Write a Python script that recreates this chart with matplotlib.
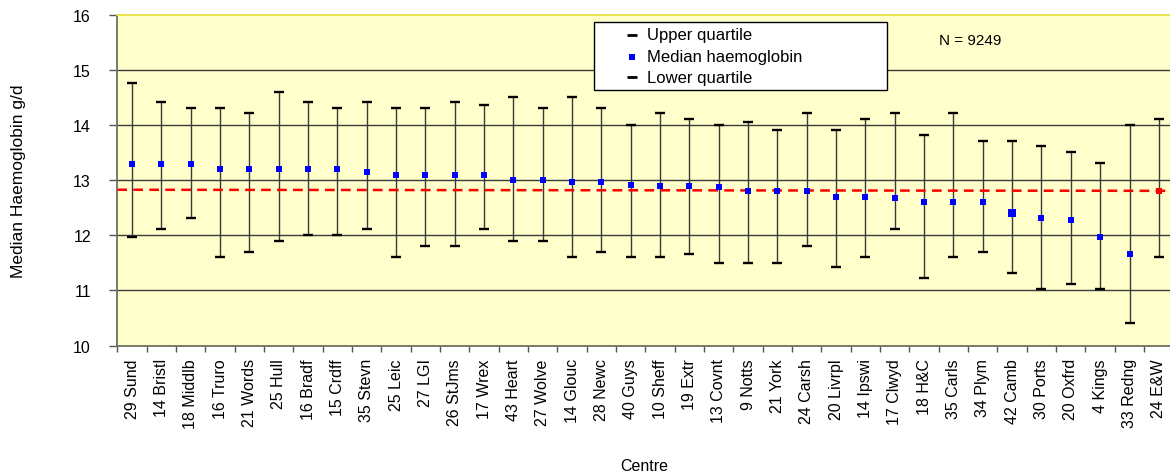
import matplotlib
matplotlib.use("Agg")
import matplotlib.pyplot as plt
from matplotlib.patches import Rectangle

plt.rcParams['font.family'] = ['Liberation Sans', 'DejaVu Sans']
plt.rcParams['lines.scale_dashes'] = False

centres = ['29 Sund', '14 Bristl', '18 Middlb', '16 Truro', '21 Words', '25 Hull',
           '16 Bradf', '15 Crdff', '35 Stevn', '25 Leic', '27 LGI', '26 StJms',
           '17 Wrex', '43 Heart', '27 Wolve', '14 Glouc', '28 Newc', '40 Guys',
           '10 Sheff', '19 Extr', '13 Covnt', '9 Notts', '21 York', '24 Carsh',
           '20 Livrpl', '14 Ipswi', '17 Clwyd', '18 H&C', '35 Carls', '34 Plym',
           '42 Camb', '30 Ports', '20 Oxfrd', '4 Kings', '33 Redng', '24 E&W']

upper = [14.76, 14.42, 14.31, 14.31, 14.21, 14.60, 14.42, 14.31, 14.42, 14.31, 14.31, 14.42,
         14.36, 14.50, 14.31, 14.50, 14.31, 14.00, 14.21, 14.11, 14.00, 14.05, 13.91, 14.21,
         13.91, 14.11, 14.21, 13.81, 14.21, 13.71, 13.71, 13.61, 13.51, 13.31, 14.00, 14.11]
median = [13.30, 13.30, 13.30, 13.20, 13.20, 13.20, 13.20, 13.20, 13.15, 13.10, 13.10, 13.10,
          13.10, 13.00, 13.00, 12.97, 12.97, 12.91, 12.90, 12.90, 12.87, 12.81, 12.80, 12.80,
          12.70, 12.70, 12.67, 12.61, 12.60, 12.60, 12.41, 12.31, 12.27, 11.96, 11.66, 12.81]
lower = [11.97, 12.11, 12.31, 11.60, 11.70, 11.90, 12.00, 12.00, 12.11, 11.60, 11.80, 11.80,
         12.11, 11.90, 11.90, 11.60, 11.70, 11.60, 11.60, 11.66, 11.50, 11.50, 11.50, 11.80,
         11.42, 11.60, 12.11, 11.22, 11.60, 11.70, 11.32, 11.02, 11.12, 11.02, 10.42, 11.60]

# England & Wales median reference line (start, end)
ew_line = [12.825, 12.805]
n_patients = 9249
legend_labels = ['Upper quartile', 'Median haemoglobin', 'Lower quartile']

x = list(range(len(centres)))

fig = plt.figure(figsize=(11.7, 4.77), dpi=100)
ax = fig.add_axes([0.1003, 0.2732, 0.9027, 0.6943])
ax.set_facecolor('#FFFFCC')

for v in [11, 12, 13, 14, 15]:
    ax.axhline(v, color='#3a3a3a', lw=1.0, zorder=1)

# quartile ranges
ax.vlines(x, lower, upper, color='#3a3a3a', lw=1.0, zorder=2)
ax.plot(x, upper, ls='none', marker='_', ms=6.5, mew=1.7, color='black', zorder=3)
ax.plot(x, lower, ls='none', marker='_', ms=6.5, mew=1.7, color='black', zorder=3)

ax.plot([-0.5, len(centres) - 0.5], ew_line, color='#FF0000', lw=1.8,
        dashes=[7, 4.5], zorder=4)

cols = ['#0000FF'] * (len(centres) - 1) + ['#FF0000']
sizes = [4.3] * len(centres)
sizes[30] = 6.0
for xi, m, c, s in zip(x, median, cols, sizes):
    ax.plot(xi, m, ls='none', marker='s', ms=s, mew=0, color=c, zorder=5)

ax.set_xlim(-0.5, len(centres) - 0.5)
ax.set_ylim(10, 16)
ax.set_yticks([10, 11, 12, 13, 14, 15, 16])
ax.tick_params(axis='y', length=6, width=1, color='#555555', pad=13, labelsize=11.5)
ax.set_xticks(x)
ax.set_xticklabels(centres, rotation=90, fontsize=11.5)
ax.tick_params(axis='x', which='major', length=0, pad=9)
ax.set_xticks([i - 0.5 for i in range(len(centres) + 1)], minor=True)
ax.tick_params(axis='x', which='minor', length=4, width=1, color='#555555')

ax.spines['top'].set_color('#E8E040')
ax.spines['left'].set_color('#707060')
ax.spines['bottom'].set_color('#707060')
ax.spines['right'].set_visible(False)
for s in ['left', 'bottom', 'top']:
    ax.spines[s].set_linewidth(1.3)

# legend box drawn by hand to match the original placement
W, H = 1170.0, 477.0
fig.add_artist(Rectangle((594 / W, 1 - 91 / H), (887 - 594) / W, (91 - 23.3) / H,
                         transform=fig.transFigure, facecolor='white',
                         edgecolor='black', lw=1.0, zorder=10))
rows_y = [35.7, 57.7, 78.3]
markers = [('_', 'black', 7, 2.0), ('s', '#0000FF', 4.0, 0), ('_', 'black', 7, 2.0)]
for ry, lab, (mk, mc, ms, mw) in zip(rows_y, legend_labels, markers):
    fig.add_artist(plt.Line2D([632 / W], [1 - ry / H], transform=fig.transFigure,
                              ls='none', marker=mk, ms=ms, mew=mw, color=mc, zorder=11))
    fig.text(647 / W, 1 - ry / H, lab, fontsize=12, ha='left', va='center', zorder=11)

fig.text(0.829, 0.914, 'N = %d' % n_patients, fontsize=11, ha='center', va='center')
fig.text(0.0154, 0.6195, 'Median Haemoglobin g/d', rotation=90, fontsize=12.5,
         ha='center', va='center')
fig.text(0.551, 0.023, 'Centre', fontsize=11.5, ha='center', va='center')

fig.savefig('out.png', dpi=100)
